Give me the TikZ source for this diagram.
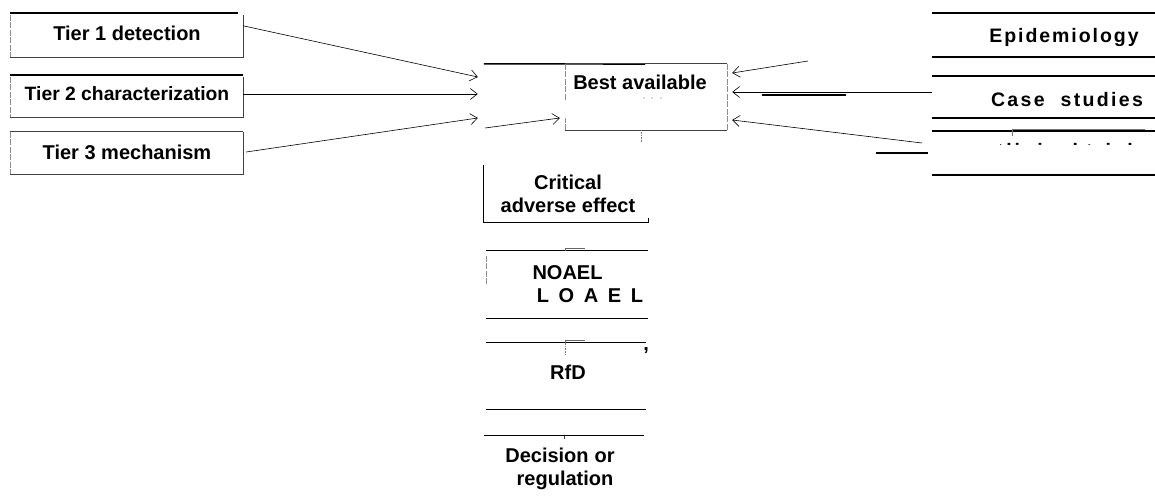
\documentclass[tikz,border=0pt]{standalone}
\usepackage{fontspec}
\setmainfont{Liberation Sans}
\usetikzlibrary{arrows.meta,calc}
\begin{document}
\begin{tikzpicture}[x=1pt,y=-1pt,
  lbl/.style={font=\fontsize{20}{23}\selectfont\bfseries, align=center, inner sep=0pt},
  sp/.style={font=\fontsize{19.5}{22}\selectfont\bfseries\addfontfeatures{LetterSpace=#1}, inner sep=0pt},
  heavy/.style={line width=1.6pt},
  thin/.style={line width=0.7pt, black!75},
  faint/.style={line width=0.6pt, black!45, dash pattern=on 6pt off 1.5pt},
  arr/.style={line width=0.6pt, -{Straight Barb[length=7pt,width=11pt,line width=0.6pt]}},
  frame/.style={minimum width=#1, draw=none, inner sep=0pt}]
\useasboundingbox (0,0) rectangle (1155,498);

% ---- left column: the three tiers ----
\node[frame=233pt, minimum height=42pt] (t1) at (126.5,36) {};
\node[frame=233pt, minimum height=40pt] (t2) at (126.5,97) {};
\node[frame=233pt, minimum height=42pt] (t3) at (126.5,153) {};
\node[lbl] at (127,33) {Tier 1 detection};
\node[lbl, font=\fontsize{19.3}{23}\selectfont\bfseries] at (127,94) {Tier 2 characterization};
\node[lbl] at (127,152) {Tier 3 mechanism};
\foreach \b in {t1,t2,t3} {
  \draw[faint] (\b.north west) -- (\b.south west);
  \draw[thin] (\b.south west) -- (\b.south east) -- (\b.north east);
}
\draw[heavy] (10,13) -- (238,13);
\draw[heavy] (10,75) -- (243,75);
\draw[thin] (t3.north west) -- (t3.north east);

% ---- central evidence box ----
\node[frame=243pt, minimum height=66pt] (best) at (605.5,97) {};
\node[frame=162pt, minimum height=66pt] (ba) at (646,97) {};
\node[lbl] at (640,82) {Best available};
\draw[heavy] (best.north west) -- (645,64);
\draw[thin] (ba.north west) -- (ba.north east);
\draw[faint] (ba.north east) -- (ba.south east);
\draw[faint] (ba.north west) -- ++(0,36);
\draw[faint] (ba.south west) -- ++(0,-12);
\draw[thin] (ba.south west) -- (ba.south east);
\draw[black!55, densely dotted, line width=0.6pt] (ba.south) ++(-5,0) -- ++(0,12);
\foreach \dx in {-2,6,15}
  \fill[black!60] ($(ba.center)+(\dx,1)$) circle (0.7pt);

% arrows from the tiers
\draw[arr] (t1.north east) ++(0,11) -- ([yshift=20pt,xshift=-6pt]best.west);
\draw[arr] ([yshift=3pt]t2.east) -- ([yshift=3pt,xshift=-6pt]best.west);
\draw[arr] ([yshift=1pt,xshift=3pt]t3.east) -- ([yshift=-21pt,xshift=-6pt]best.west);
\coordinate (inB) at (485,128);
\draw[arr] (inB) -- ([yshift=-21pt,xshift=-5pt]ba.west);

% ---- right column ----
\node[frame=223pt, minimum height=44pt] (epi) at (1043.5,35) {};
\node[frame=223pt, minimum height=42pt] (cs) at (1043.5,97) {};
\node[frame=223pt, minimum height=44pt] (cl) at (1043.5,153) {};
\node[sp=10, anchor=base] at (1064,42) {Epidemiology};
\node[sp=12, anchor=base] at (1067,106.5) {Case\hspace{16pt}studies};
\begin{scope}
  \clip (1000,142.3) rectangle (1155,144.2);
  \node[sp=14, anchor=base] at (1068,157) {Clinical trials};
\end{scope}
\foreach \b in {epi,cs,cl} {
  \draw[heavy] (\b.north west) -- (\b.north east);
  \draw[heavy] (\b.south west) -- (\b.south east);
}
\draw[thin, black!55] (1012,129.5) -- (1145,129.5);
\draw[thin, black!55] (1012,129.5) -- (1012,136);

% arrows into the evidence box from the right
\coordinate (inE) at (808,61);
\coordinate (inC) at (922,143);
\draw[arr] (inE) -- ([yshift=24pt,xshift=5pt]ba.east);
\draw[arr] ([yshift=5pt]cs.west) -- ([yshift=5pt,xshift=5pt]ba.east);
\draw[arr] (inC) -- ([yshift=-23pt,xshift=5pt]ba.east);
\draw[heavy] (762,95) -- (846,95);
\draw[heavy] (876,153) -- (928,153);

% ---- central chain ----
\node[frame=164pt, minimum height=57pt] (crit) at (566,193.5) {};
\node[lbl] at (568,193.5) {Critical\\adverse effect};
\draw[heavy, line width=1.2pt] (crit.north west) -- (crit.south west) -- (crit.south east) -- ++(0,-4);

\node[frame=162pt, minimum height=67pt] (noael) at (567,284.5) {};
\node[lbl, anchor=base] at (567.5,279) {NOAEL};
\node[lbl, anchor=base, font=\fontsize{20}{23}\selectfont\bfseries\addfontfeatures{LetterSpace=48}] at (590,302) {LOAEL};
\draw[heavy, line width=1.3pt] (noael.north west) -- (noael.north east);
\draw[heavy, line width=1.3pt] (noael.south west) -- (noael.south east);
\draw[thin, black!60] ([xshift=-2pt]noael.north) -- ++(0,-2) -- ++(20,0);
\draw[faint] ([yshift=-5pt]noael.north west) -- ++(0,28);

\node[frame=160pt, minimum height=66pt] (rfd) at (566,376) {};
\node[lbl, anchor=base] at (568,379) {RfD};
\draw[heavy, line width=1.3pt] (rfd.north west) -- (rfd.north east);
\draw[heavy, line width=1.3pt] (rfd.south west) -- (rfd.south east);
\draw[thin, black!60] ([xshift=-1pt]rfd.north) -- ++(0,-2) -- ++(20,0);
\draw[black!50, densely dotted, line width=0.6pt] ([xshift=-1pt]rfd.north) -- ++(0,12);
\node[lbl, anchor=base] at ([xshift=0pt,yshift=-8pt]rfd.north east) {,};

\node[frame=160pt, minimum height=60pt] (dec) at (564,466) {};
\node[lbl] at (560,468.5) {Decision\hspace{6pt}or\\\hspace*{10pt}regulation};
\draw[heavy, line width=1.3pt] (dec.north west) -- (dec.north east);
\draw[thin] (dec.north) -- ++(0,3);
\end{tikzpicture}
\end{document}
